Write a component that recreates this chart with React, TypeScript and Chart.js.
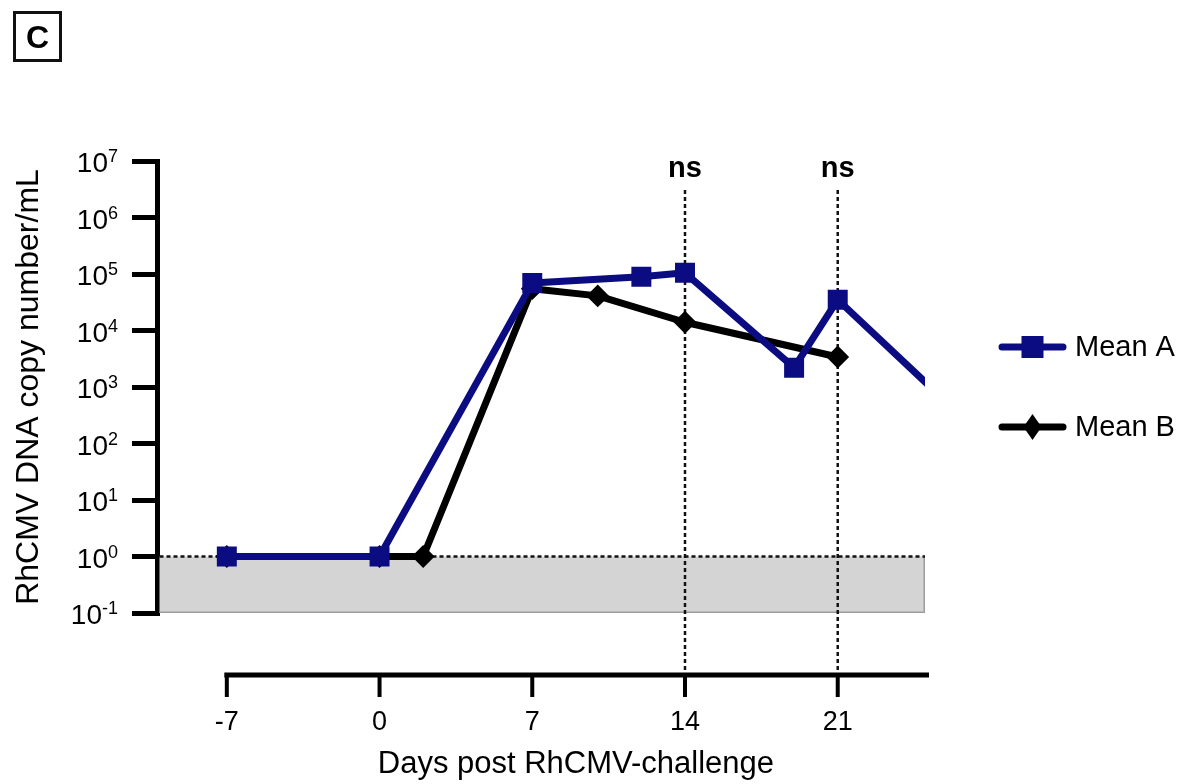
import React, { useEffect, useRef } from 'react';
import { Chart, registerables } from 'chart.js';

Chart.register(...registerables);

// ---- data ----
const seriesNames = ['Mean A', 'Mean B'];
const daysA = [-7, 0, 7, 12, 14, 19, 21, 28];
const meanA = [1, 1, 69000, 89000, 105000, 2200, 35000, 100];
const daysB = [-7, 0, 2, 7, 10, 14, 21];
const meanB = [1, 1, 1, 55000, 41000, 14000, 3400];
const xTicks = [-7, 0, 7, 14, 21];
const yTickExponents = [-1, 0, 1, 2, 3, 4, 5, 6, 7];
const sigDays = [14, 21];
const sigLabels = ['ns', 'ns'];
const lodBand = [0.1, 1];
const xRange = [-10.2, 25];
const yRange = [0.1, 1e7];
const xTitle = 'Days post RhCMV-challenge';
const yTitle = 'RhCMV DNA copy number/mL';

const NAVY = '#0c0c82';
const FONT = "'Liberation Sans', Arial, Helvetica, sans-serif";

const decorPlugin = {
  id: 'decor',
  beforeDatasetsDraw(chart: any) {
    const { ctx, chartArea: ca, scales } = chart;
    const x = scales.x;
    const y = scales.y;
    const yTop = y.getPixelForValue(lodBand[1]);
    const yBot = y.getPixelForValue(lodBand[0]);
    const left = ca.left + 2.5;
    ctx.save();
    ctx.fillStyle = '#d4d4d4';
    ctx.fillRect(left, yTop, ca.right - left, yBot - yTop);
    ctx.strokeStyle = '#9c9c9c';
    ctx.lineWidth = 1.5;
    ctx.beginPath();
    ctx.moveTo(left, yBot - 0.75);
    ctx.lineTo(ca.right - 0.75, yBot - 0.75);
    ctx.lineTo(ca.right - 0.75, yTop);
    ctx.stroke();
    // dotted detection-limit line
    ctx.setLineDash([4, 3]);
    ctx.lineWidth = 2.5;
    ctx.strokeStyle = '#111';
    ctx.beginPath();
    ctx.moveTo(left, yTop);
    ctx.lineTo(ca.right, yTop);
    ctx.stroke();
    // dotted vertical lines at the compared days
    const axisY = ca.bottom + 62;
    sigDays.forEach((d) => {
      const px = x.getPixelForValue(d);
      ctx.beginPath();
      ctx.moveTo(px, ca.top + 29);
      ctx.lineTo(px, axisY);
      ctx.stroke();
    });
    ctx.restore();
  },
  afterDraw(chart: any) {
    const { ctx, chartArea: ca, scales } = chart;
    const x = scales.x;
    const y = scales.y;
    const axisY = ca.bottom + 62;
    const x0 = x.getPixelForValue(xTicks[0]);
    const x1 = x.getPixelForValue(xRange[1]);
    ctx.save();
    // y tick labels with superscript exponents
    ctx.fillStyle = '#000';
    ctx.textBaseline = 'alphabetic';
    ctx.textAlign = 'left';
    const rightEdge = ca.left - 25 - 14;
    y.ticks.forEach((t: any) => {
      const py = y.getPixelForValue(t.value);
      const exp = String(Math.round(Math.log10(t.value)));
      ctx.font = `18px ${FONT}`;
      const ew = ctx.measureText(exp).width;
      ctx.font = `28px ${FONT}`;
      const bw = ctx.measureText('10').width;
      const bx = rightEdge - ew - bw;
      ctx.fillText('10', bx, py + 11);
      ctx.font = `18px ${FONT}`;
      ctx.fillText(exp, bx + bw, py + 1);
    });
    // offset x axis line
    ctx.strokeStyle = '#000';
    ctx.lineWidth = 5;
    ctx.lineCap = 'butt';
    ctx.beginPath();
    ctx.moveTo(x0 - 2.5, axisY);
    ctx.lineTo(x1 + 4, axisY);
    ctx.stroke();
    ctx.lineWidth = 4;
    xTicks.forEach((t) => {
      const px = x.getPixelForValue(t);
      ctx.beginPath();
      ctx.moveTo(px, axisY);
      ctx.lineTo(px, axisY + 22);
      ctx.stroke();
    });
    // x title
    ctx.fillStyle = '#000';
    ctx.font = `31px ${FONT}`;
    ctx.textAlign = 'center';
    ctx.textBaseline = 'alphabetic';
    ctx.fillText(xTitle, (x0 + x1) / 2, 773);
    // significance labels
    ctx.font = `bold 29px ${FONT}`;
    ctx.textBaseline = 'middle';
    sigDays.forEach((d, i) => {
      ctx.fillText(sigLabels[i], x.getPixelForValue(d), ca.top + 8);
    });
    // legend
    const lx0 = ca.right + 77;
    const lx1 = ca.right + 138;
    const mx = (lx0 + lx1) / 2;
    const rows = [ca.top + 186, ca.top + 266];
    const colors = [NAVY, '#000'];
    rows.forEach((ly, i) => {
      ctx.strokeStyle = colors[i];
      ctx.fillStyle = colors[i];
      ctx.lineWidth = 7;
      ctx.lineCap = 'round';
      ctx.beginPath();
      ctx.moveTo(lx0, ly);
      ctx.lineTo(lx1, ly);
      ctx.stroke();
      if (i === 0) {
        ctx.fillRect(mx - 11, ly - 11, 22, 22);
      } else {
        ctx.beginPath();
        ctx.moveTo(mx, ly - 13);
        ctx.lineTo(mx + 9, ly);
        ctx.lineTo(mx, ly + 13);
        ctx.lineTo(mx - 9, ly);
        ctx.closePath();
        ctx.fill();
      }
      ctx.fillStyle = '#000';
      ctx.font = `29px ${FONT}`;
      ctx.textAlign = 'left';
      ctx.textBaseline = 'middle';
      ctx.fillText(seriesNames[i], lx1 + 12, ly + 1);
    });
    ctx.restore();
  },
};

export default function App() {
  const ref = useRef<HTMLCanvasElement>(null);

  useEffect(() => {
    if (!ref.current) return;
    Chart.defaults.font.family = FONT;
    Chart.defaults.color = '#000';
    const chart = new Chart(ref.current, {
      type: 'line',
      data: {
        datasets: [
          {
            label: seriesNames[0],
            data: daysA.map((d, i) => ({ x: d, y: meanA[i] })),
            borderColor: NAVY,
            backgroundColor: NAVY,
            borderWidth: 7,
            borderJoinStyle: 'round',
            borderCapStyle: 'round',
            pointStyle: 'rect',
            pointRadius: 12,
            pointBorderWidth: 3,
            pointBorderColor: NAVY,
            pointBackgroundColor: NAVY,
            tension: 0,
            clip: 0,
          },
          {
            label: seriesNames[1],
            data: daysB.map((d, i) => ({ x: d, y: meanB[i] })),
            borderColor: '#000',
            backgroundColor: '#000',
            borderWidth: 7,
            borderJoinStyle: 'round',
            borderCapStyle: 'round',
            pointStyle: 'rectRot',
            pointRadius: 10,
            pointBorderWidth: 2,
            pointBorderColor: '#000',
            pointBackgroundColor: '#000',
            tension: 0,
            clip: 0,
          },
        ],
      },
      options: {
        animation: false,
        responsive: false,
        maintainAspectRatio: false,
        devicePixelRatio: 1,
        events: [],
        layout: { padding: { top: 161, right: 259, left: 0, bottom: 0 } },
        plugins: { legend: { display: false }, tooltip: { enabled: false } },
        scales: {
          x: {
            type: 'linear',
            min: xRange[0],
            max: xRange[1],
            afterBuildTicks: (s: any) => {
              s.ticks = xTicks.map((v) => ({ value: v }));
            },
            afterFit: (s: any) => {
              s.height = 171;
            },
            grid: { display: false, drawTicks: false, drawOnChartArea: false },
            border: { display: false },
            ticks: {
              padding: 93,
              maxRotation: 0,
              autoSkip: false,
              color: '#000',
              font: { size: 27, family: FONT },
              callback: (v: any) => String(v),
            },
          },
          y: {
            type: 'logarithmic',
            min: yRange[0],
            max: yRange[1],
            afterBuildTicks: (s: any) => {
              s.ticks = yTickExponents.map((e) => ({ value: Math.pow(10, e), major: true }));
            },
            afterFit: (s: any) => {
              s.width = 157;
            },
            border: { display: true, width: 5, color: '#000' },
            grid: {
              drawOnChartArea: false,
              drawTicks: true,
              tickLength: 25,
              lineWidth: 5,
              color: '#000',
            },
            ticks: { display: false },
            title: {
              display: true,
              text: yTitle,
              color: '#000',
              font: { size: 32, family: FONT },
              padding: { top: 10, bottom: 0 },
            },
          },
        },
      },
      plugins: [decorPlugin],
    } as any);
    return () => chart.destroy();
  }, []);

  return (
    <div style={{ position: 'absolute', left: 0, top: 0, width: 1184, height: 784, background: '#fff' }}>
      <canvas ref={ref} width={1184} height={784} style={{ display: 'block', width: 1184, height: 784 }} />
      <div
        style={{
          position: 'absolute',
          left: 13,
          top: 11,
          width: 49,
          height: 51,
          boxSizing: 'border-box',
          border: '3px solid #111',
          display: 'flex',
          alignItems: 'center',
          justifyContent: 'center',
          font: `bold 32px ${FONT}`,
          color: '#000',
          lineHeight: 1,
        }}
      >
        C
      </div>
    </div>
  );
}
